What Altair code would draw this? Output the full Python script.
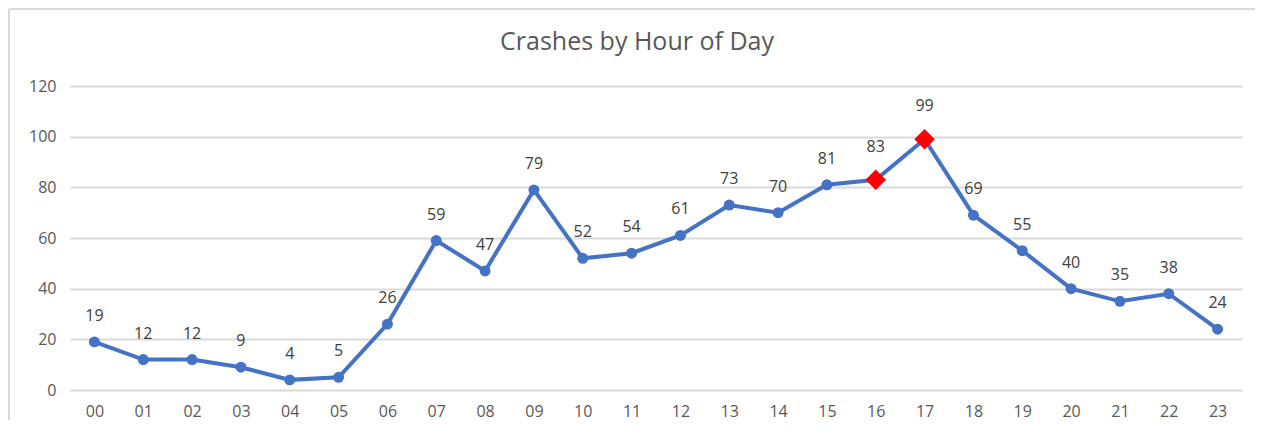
import altair as alt
import pandas as pd

hours = ["00","01","02","03","04","05","06","07","08","09","10","11",
         "12","13","14","15","16","17","18","19","20","21","22","23"]
crashes = [19,12,12,9,4,5,26,59,47,79,52,54,61,73,70,81,83,99,69,55,40,35,38,24]
highlight_hours = ["16","17"]
title_text = "Crashes by Hour of Day"

df = pd.DataFrame({"hour": hours, "crashes": crashes})
df["hl"] = df["hour"].isin(highlight_hours)

FONT = "Open Sans"
x = alt.X("hour:O", sort=hours, scale=alt.Scale(padding=0.5),
          axis=alt.Axis(title=None, labelAngle=0, ticks=False, domain=False,
                        labelColor="#595959", labelFontSize=16, labelFont=FONT,
                        labelPadding=13))
y = alt.Y("crashes:Q", scale=alt.Scale(domain=[0, 120]),
          axis=alt.Axis(title=None, values=[0,20,40,60,80,100,120], ticks=False,
                        domain=False, grid=True, gridColor="#d9d9d9", gridWidth=2,
                        labelColor="#595959", labelFontSize=16, labelFont=FONT,
                        labelPadding=14))

base = alt.Chart(df)
line = base.mark_line(color="#4472C4", strokeWidth=4).encode(x=x, y=y)
pts = base.transform_filter("!datum.hl").mark_circle(color="#4472C4", size=120, opacity=1).encode(x=x, y=y)
dia = base.transform_filter("datum.hl").mark_point(shape="diamond", color="#FF0000", filled=True,
                                                   size=420, opacity=1).encode(x=x, y=y)
lab1 = base.transform_filter("!datum.hl").mark_text(dy=-26, font=FONT, fontSize=16, color="#404040").encode(
    x=x, y=y, text="crashes:Q")
lab2 = base.transform_filter("datum.hl").mark_text(dy=-33, font=FONT, fontSize=16, color="#404040").encode(
    x=x, y=y, text="crashes:Q")

frame_top = alt.Chart(df).mark_rule(color="#d9d9d9", strokeWidth=2).encode(
    x=alt.value(-61), x2=alt.value(1300), y=alt.value(-77))
frame_left = alt.Chart(df).mark_rule(color="#d9d9d9", strokeWidth=2).encode(
    x=alt.value(-61), y=alt.value(-77), y2=alt.value(400))
title = alt.Chart(df).transform_filter("datum.hour == '00'").mark_text(
    text=title_text, font=FONT, fontSize=25, color="#595959", align="center", baseline="middle"
).encode(x=alt.value(567), y=alt.value(-44))

chart = alt.layer(frame_top, frame_left, title, line, pts, dia, lab1, lab2).properties(
    width=1172, height=304,
    autosize=alt.AutoSizeParams(type="none"),
    padding={"left": 62, "top": 78, "right": 13, "bottom": 30},
).configure_view(stroke=None)

chart.save("out.html", embed_options={"renderer": "svg", "actions": False})
